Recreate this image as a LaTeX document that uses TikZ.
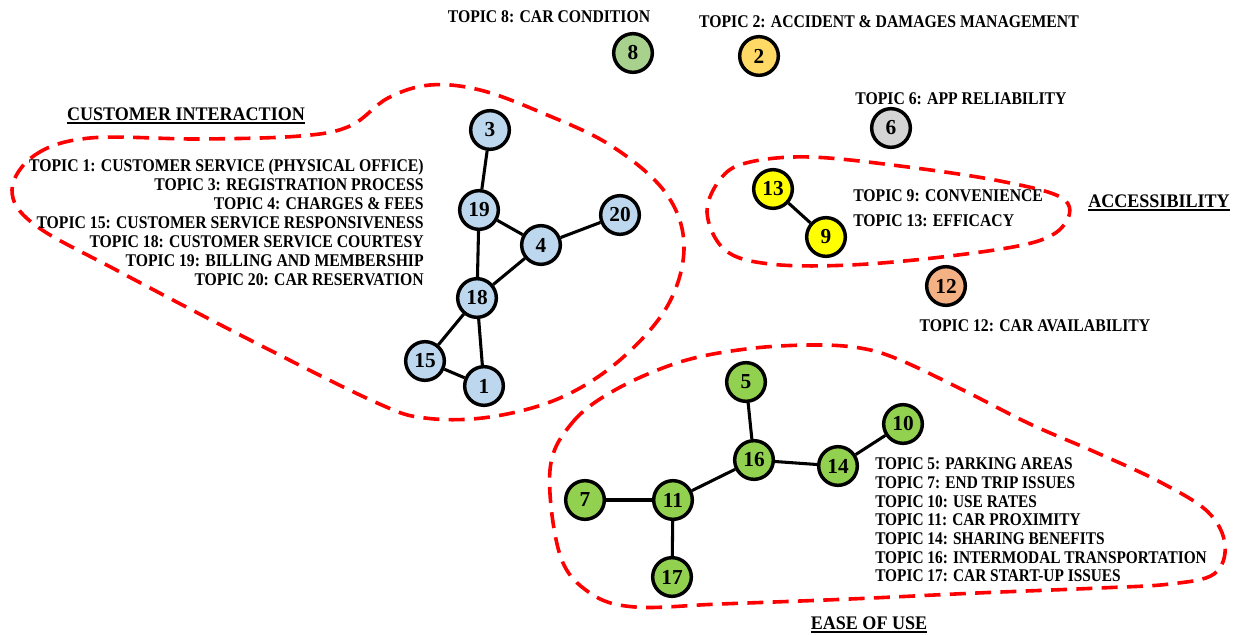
\documentclass[tikz,border=0pt]{standalone}
\usepackage{fontspec}
\setmainfont{Liberation Serif}
\newcommand{\sqz}[1]{\scalebox{0.88}[1]{#1}}
\newcommand{\ulbar}[1]{\setbox0\hbox{#1}\rlap{\rule[-2.2pt]{\wd0}{1.3pt}}\box0}
\definecolor{cblue}{HTML}{BDD7EE}
\definecolor{cgreenlt}{HTML}{A9D18E}
\definecolor{cgold}{HTML}{FFD966}
\definecolor{cgray}{HTML}{D4D4D4}
\definecolor{cyel}{HTML}{FFFF00}
\definecolor{corange}{HTML}{F4B183}
\definecolor{cgreen}{HTML}{92D050}
\begin{document}
\begin{tikzpicture}[x=0.75pt,y=-0.75pt,
  topic/.style={circle, draw=black, line width=2.6pt, minimum size=29pt, inner sep=0pt, font=\fontsize{16}{16}\selectfont\bfseries},
  link/.style={line width=2.3pt},
  blob/.style={draw=red, line width=2.7pt, dash pattern=on 12pt off 7pt},
  lbl/.style={font=\fontsize{13.4}{14.25}\selectfont\bfseries, inner sep=0pt},
  head/.style={font=\fontsize{14.4}{16}\selectfont\bfseries, inner sep=0pt}]
\useasboundingbox (0,0) rectangle (1233,635);
% dashed groups
\draw[blob] plot[smooth cycle, tension=0.6] coordinates {
  (12,190) (35,155) (90,138) (200,139) (300,136) (350,126) (388,98) (430,85) (480,90)
  (540,112) (610,145) (665,192) (684,245) (668,305) (620,360) (560,398) (490,417)
  (425,418) (375,402) (250,340) (120,272) (35,225)};
\draw[blob] plot[smooth cycle, tension=0.6] coordinates {
  (707,212) (722,177) (750,162) (810,157) (900,166) (1000,181) (1062,198) (1066,222)
  (1035,242) (950,256) (850,265) (770,264) (725,250)};
\draw[blob] plot[smooth cycle, tension=0.6] coordinates {
  (550,470) (572,423) (615,390) (680,362) (746,349) (811,345) (860,348) (900,360)
  (963,390) (1030,424) (1095,452) (1160,482) (1208,512) (1225,545) (1214,574)
  (1170,584) (1100,588) (977,593) (850,599) (720,604) (635,607) (590,593) (560,555)};
% nodes
\node[topic, fill=cgreenlt] (n8) at (633,53) {8};
\node[topic, fill=cgold] (n2) at (759,56) {2};
\node[topic, fill=cgray] (n6) at (891,128) {6};
\node[topic, fill=cyel] (n13) at (773,189) {13};
\node[topic, fill=cyel] (n9) at (826,237) {9};
\node[topic, fill=corange] (n12) at (946,286) {12};
\node[topic, fill=cblue] (n3) at (490,130) {3};
\node[topic, fill=cblue] (n19) at (479,210) {19};
\node[topic, fill=cblue] (n20) at (620,215) {20};
\node[topic, fill=cblue] (n4) at (541,245) {4};
\node[topic, fill=cblue] (n18) at (477,298) {18};
\node[topic, fill=cblue] (n15) at (425,361) {15};
\node[topic, fill=cblue] (n1) at (484,386) {1};
\node[topic, fill=cgreen] (n5) at (746,382) {5};
\node[topic, fill=cgreen] (n10) at (903,424) {10};
\node[topic, fill=cgreen] (n16) at (754,460) {16};
\node[topic, fill=cgreen] (n14) at (838,466) {14};
\node[topic, fill=cgreen] (n7) at (585,500) {7};
\node[topic, fill=cgreen] (n11) at (673,500) {11};
\node[topic, fill=cgreen] (n17) at (672,577) {17};
% links
\draw[link] (n3) -- (n19);
\draw[link] (n19) -- (n4);
\draw[link] (n19) -- (n18);
\draw[link] (n4) -- (n18);
\draw[link] (n4) -- (n20);
\draw[link] (n18) -- (n15);
\draw[link] (n18) -- (n1);
\draw[link] (n15) -- (n1);
\draw[link] (n13) -- (n9);
\draw[link] (n5) -- (n16);
\draw[link] (n16) -- (n14);
\draw[link] (n14) -- (n10);
\draw[link] (n16) -- (n11);
\draw[link] (n11) -- (n7);
\draw[link] (n11) -- (n17);
% labels
\node[lbl] (t8) at (549,17) {\sqz{TOPIC 8: CAR CONDITION}};
\node[lbl] (t2) at (889,22) {\sqz{TOPIC 2: ACCIDENT \& DAMAGES MANAGEMENT}};
\node[lbl] (t6) at (961,99) {\sqz{TOPIC 6: APP RELIABILITY}};
\node[lbl, anchor=west] (t9) at (853,196) {\sqz{TOPIC 9: CONVENIENCE}};
\node[lbl, anchor=west] (t13) at (853,221) {\sqz{TOPIC 13: EFFICACY}};
\node[lbl] (t12) at (1035,326) {\sqz{TOPIC 12: CAR AVAILABILITY}};
\node[head] (hacc) at (1159,203) {\ulbar{\scalebox{0.94}[1]{ACCESSIBILITY}}};
\node[head] (hci) at (186,116) {\ulbar{\scalebox{0.94}[1]{CUSTOMER INTERACTION}}};
\node[head] (heu) at (869,625) {\ulbar{\scalebox{0.94}[1]{EASE OF USE}}};
\node[lbl, anchor=east] (tci) at (424,225) {\sqz{\begin{tabular}{@{}r@{}}
TOPIC 1: CUSTOMER SERVICE (PHYSICAL OFFICE)\\
TOPIC 3: REGISTRATION PROCESS\\
TOPIC 4: CHARGES \& FEES\\
TOPIC 15: CUSTOMER SERVICE RESPONSIVENESS\\
TOPIC 18: CUSTOMER SERVICE COURTESY\\
TOPIC 19: BILLING AND MEMBERSHIP\\
TOPIC 20: CAR RESERVATION
\end{tabular}}};
\node[lbl, anchor=west, font=\fontsize{13.4}{14}\selectfont\bfseries] (teu) at (875,522) {\scalebox{0.86}[1]{\begin{tabular}{@{}l@{}}
TOPIC 5: PARKING AREAS\\
TOPIC 7: END TRIP ISSUES\\
TOPIC 10: USE RATES\\
TOPIC 11: CAR PROXIMITY\\
TOPIC 14: SHARING BENEFITS\\
TOPIC 16: INTERMODAL TRANSPORTATION\\
TOPIC 17: CAR START-UP ISSUES
\end{tabular}}};
\end{tikzpicture}
\end{document}
